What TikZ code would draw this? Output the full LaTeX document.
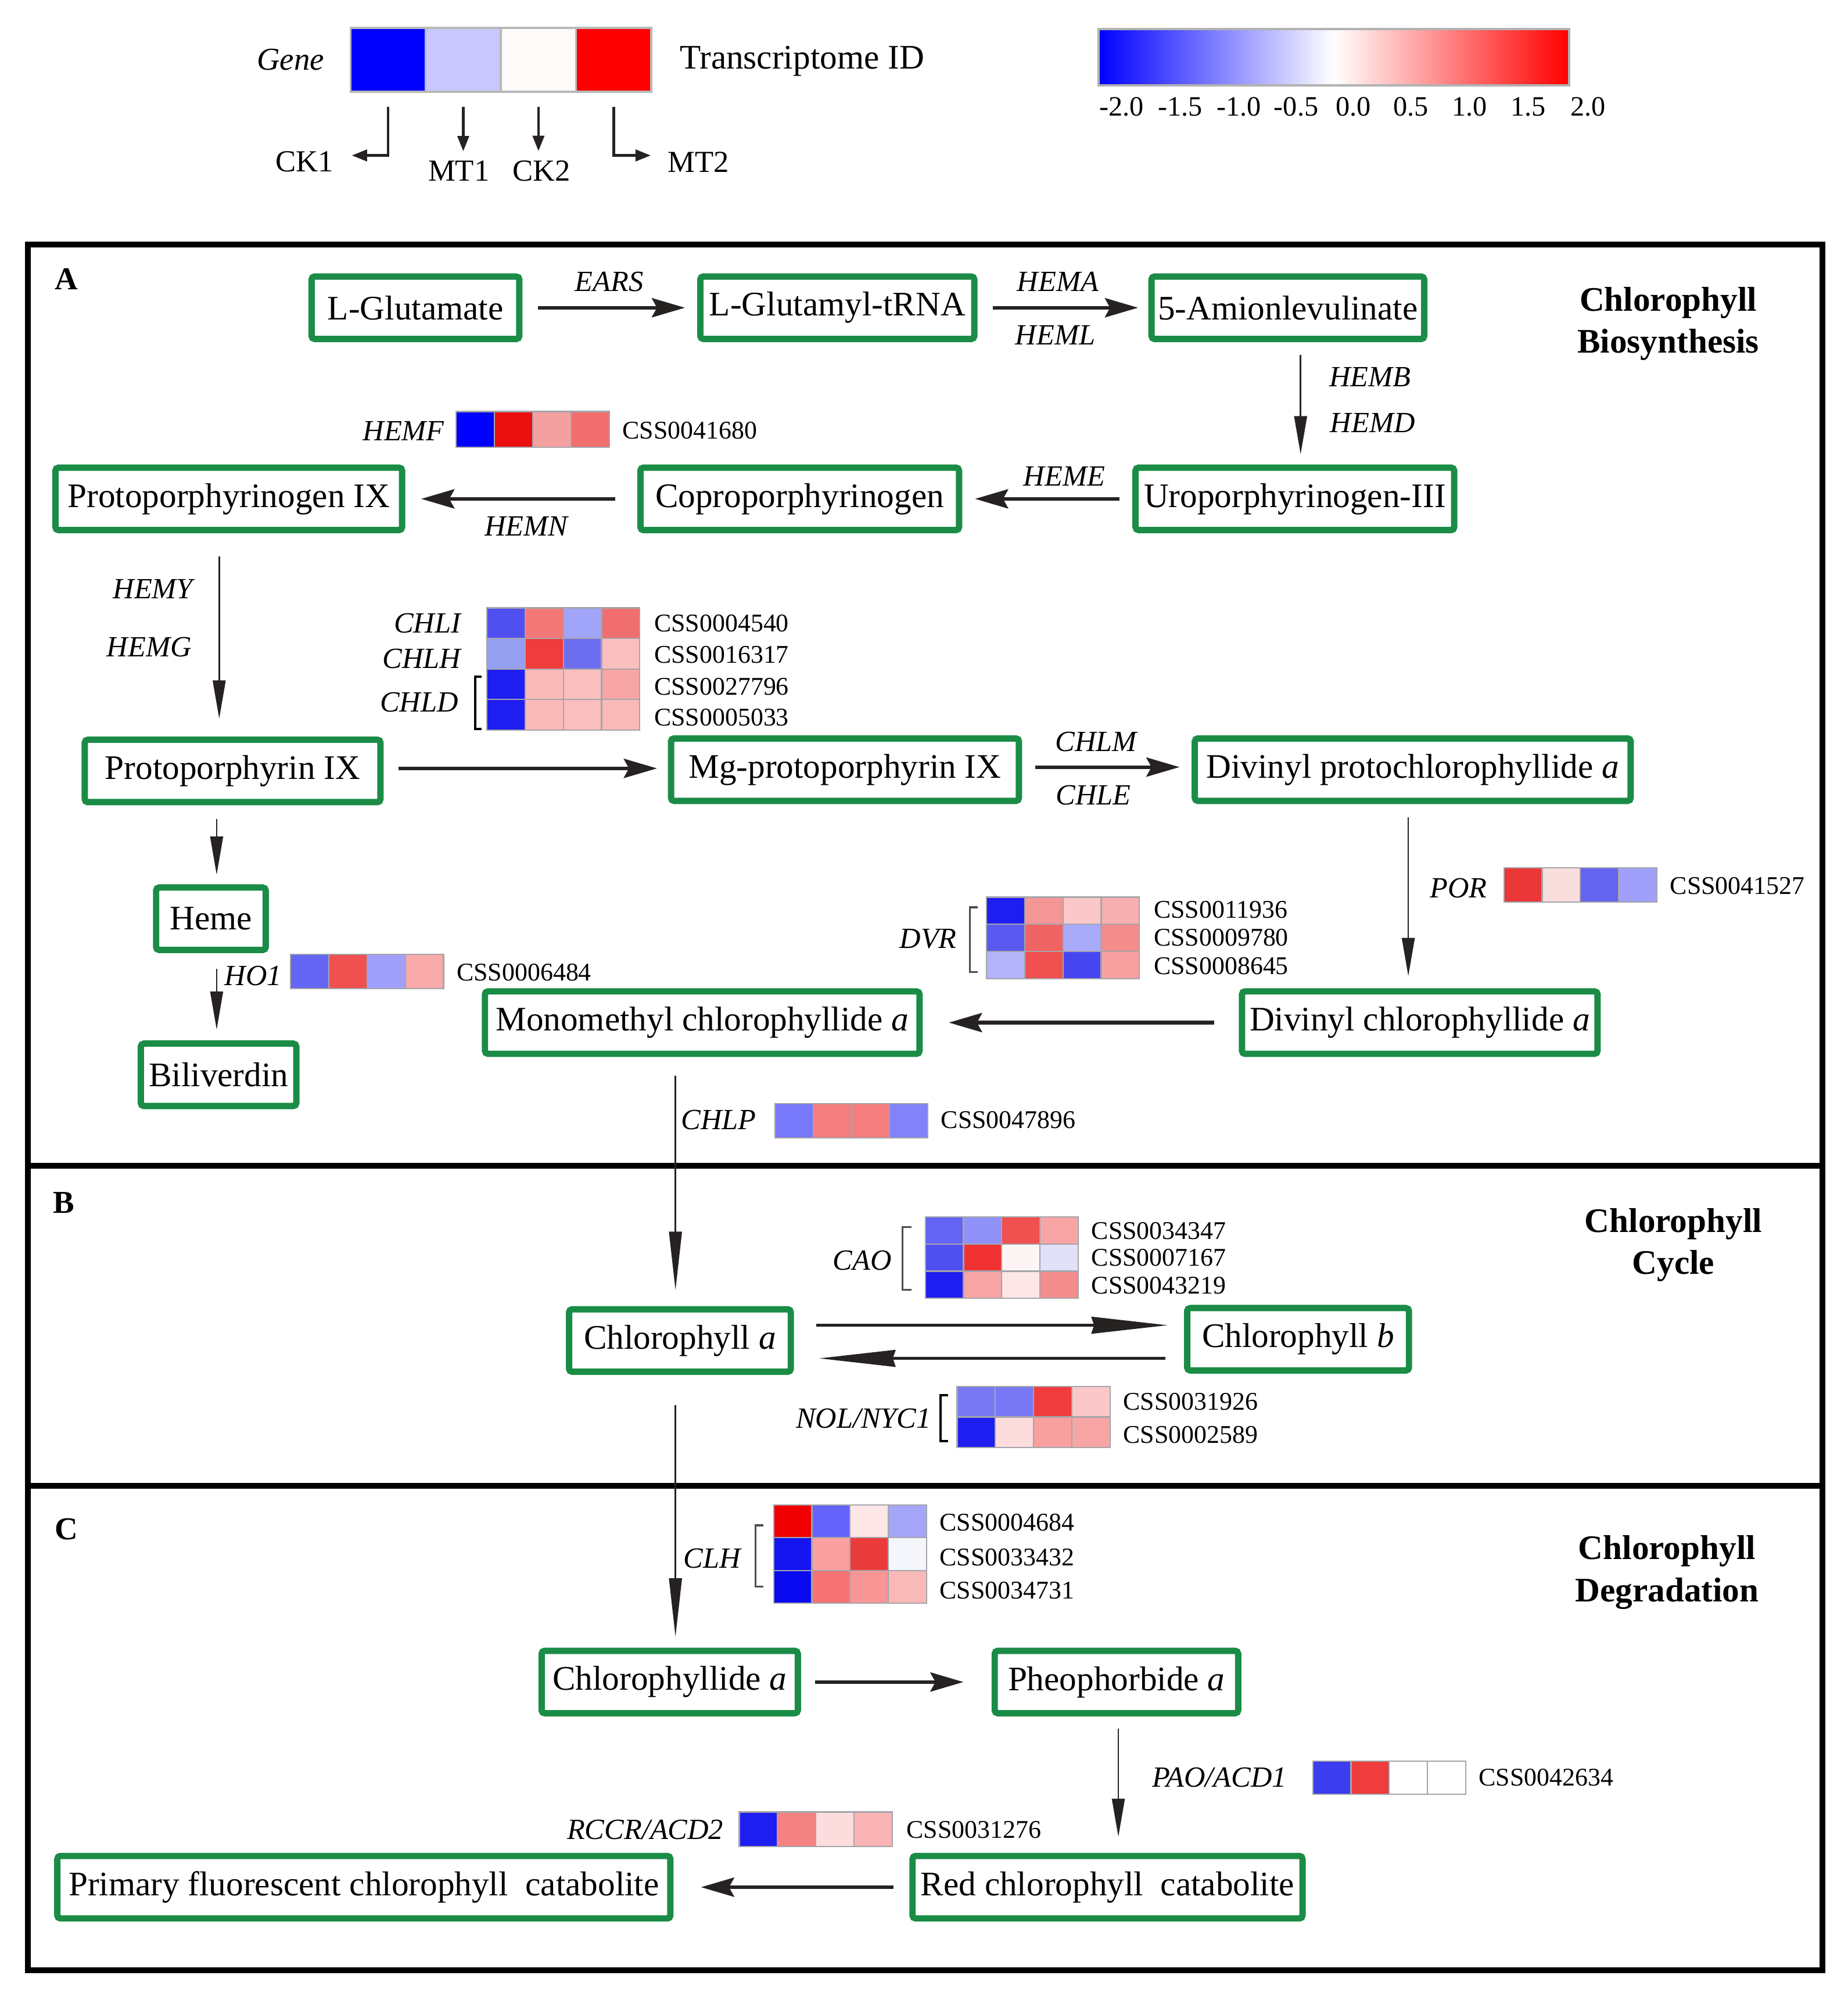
\documentclass[tikz,border=0pt]{standalone}
\usepackage{fontspec}
\setmainfont{Liberation Serif}
\usetikzlibrary{arrows.meta}
\definecolor{boxgreen}{RGB}{27,140,70}
\definecolor{arrgray}{RGB}{38,34,34}
\definecolor{hmgray}{RGB}{165,165,170}
\definecolor{legblue}{RGB}{0,0,255}
\definecolor{leglblue}{RGB}{200,200,255}
\definecolor{legwhite}{RGB}{255,250,250}
\definecolor{legred}{RGB}{255,0,0}
\newcommand\hmcell[3]{%
  \definecolor{hmtmp}{RGB}{#3}%
  \filldraw[draw=hmgray,line width=0.5pt,fill=hmtmp] (#1,0) rectangle ++(30,#2);}
\newcommand\hmrow[7]{%
  \begin{scope}[shift={(#1,#2)}]
    \hmcell{0}{#3}{#4}\hmcell{30}{#3}{#5}\hmcell{60}{#3}{#6}\hmcell{90}{#3}{#7}
  \end{scope}}
\tikzset{
  cpd/.style={draw=boxgreen, line width=2.5pt, rounded corners=1.2pt, minimum height=24.5pt, inner sep=0pt, font=\fontsize{13.5}{16}\selectfont},
  gene/.style={font=\fontsize{11.5}{13}\selectfont\itshape, inner sep=0pt},
  cssid/.style={font=\fontsize{10}{12}\selectfont, inner sep=0pt, anchor=west},
  sectitle/.style={font=\fontsize{13.5}{16.5}\selectfont\bfseries, align=center, inner sep=0pt},
  secletter/.style={font=\fontsize{12.5}{14}\selectfont\bfseries, inner sep=0pt},
  mainarr/.style={draw=arrgray, line width=1.4pt, -{Stealth[length=13pt,width=7.5pt,inset=2pt]}},
  thinarr/.style={draw=arrgray, line width=0.6pt, -{Triangle[length=15pt,width=5pt]}},
  longarr/.style={draw=arrgray, line width=0.6pt, -{Triangle[length=23pt,width=5pt]}},
  cycarr/.style={draw=arrgray, line width=1.3pt, -{Stealth[length=30pt,width=6.5pt,inset=1pt]}},
  brk/.style={draw=black!70, line width=0.7pt},
  legcell/.style={draw=gray!55, line width=0.8pt, minimum width=29.5pt, minimum height=25pt, inner sep=0pt},
  leglab/.style={font=\fontsize{12}{14}\selectfont, inner sep=0pt},
  legarr/.style={draw=arrgray, line width=1pt, -{Triangle[length=6pt,width=4.5pt]}},
  cblab/.style={font=\fontsize{11}{13}\selectfont, inner sep=0pt},
  framel/.style={draw=black, line width=2.3pt}
}
\begin{document}
\begin{tikzpicture}[x=0.5pt,y=-0.5pt]
\path[fill=white] (0,0) rectangle (1450,1561.7);
\useasboundingbox (0,0) rectangle (1450,1561.7);

% ---------------- legend ----------------
\node[font=\fontsize{12.5}{14}\selectfont\itshape, inner sep=0pt] (genelbl) at (228,47) {Gene};
\node[legcell, fill=legblue]  (lc1) at (304.5,47) {};
\node[legcell, fill=leglblue] (lc2) at (363.5,47) {};
\node[legcell, fill=legwhite] (lc3) at (422.5,47) {};
\node[legcell, fill=legred]   (lc4) at (481.5,47) {};
\node[font=\fontsize{13.5}{16}\selectfont, inner sep=0pt, anchor=west] (tid) at (533,48) {Transcriptome ID};
\node[leglab] (ck1) at (239,127) {CK1};
\node[leglab] (mt1) at (360,134) {MT1};
\node[leglab] (ck2) at (425,134) {CK2};
\node[leglab] (mt2) at (548,127) {MT2};
\draw[legarr] ([yshift=-5.5pt]lc1.south) |- ([xshift=7pt,yshift=2.5pt]ck1.east);
\draw[legarr, shorten >=3.5pt] ([yshift=-5.5pt]lc2.south) -- (lc2.south |- mt1.north);
\draw[legarr, shorten >=3.5pt] ([yshift=-5.5pt]lc3.south) -- (lc3.south |- ck2.north);
\draw[legarr] ([yshift=-5.5pt]lc4.south) |- ([xshift=-6.5pt,yshift=2.5pt]mt2.west);

% colour bar
\shade[left color=blue, right color=red, middle color=white] (862,23) rectangle (1231,67);
\draw[gray!60, line width=0.9pt] (862,23) rectangle (1231,67);
\node[cblab] (cb1) at (880,84) {-2.0};
\node[cblab] (cb2) at (926,84) {-1.5};
\node[cblab] (cb3) at (972,84) {-1.0};
\node[cblab] (cb4) at (1017,84) {-0.5};
\node[cblab] (cb5) at (1062,84) {0.0};
\node[cblab] (cb6) at (1107,84) {0.5};
\node[cblab] (cb7) at (1153,84) {1.0};
\node[cblab] (cb8) at (1199,84) {1.5};
\node[cblab] (cb9) at (1246,84) {2.0};

% ---------------- frame ----------------
\draw[framel] (22,192) rectangle (1430,1546);
\draw[framel] (22,915) -- (1430,915);
\draw[framel] (22,1166) -- (1430,1166);
\node[secletter] (secA) at (52,219) {A};
\node[secletter] (secB) at (50,944) {B};
\node[secletter] (secC) at (52,1200) {C};
\node[sectitle] (titA) at (1309,254) {Chlorophyll\\Biosynthesis};
\node[sectitle] (titB) at (1313,977) {Chlorophyll\\Cycle};
\node[sectitle] (titC) at (1308,1234) {Chlorophyll\\Degradation};

% ---------------- compounds ----------------
\node[cpd, minimum width=81.5pt]  (glu)    at (326,241.5) {L-Glutamate};
\node[cpd, minimum width=107.5pt] (glut)   at (657,241.5) {L-Glutamyl-tRNA};
\node[cpd, minimum width=107pt]   (amino)  at (1010.5,241.5) {5-Amionlevulinate};
\node[cpd, minimum width=125pt]   (urop)   at (1016,391.5) {Uroporphyrinogen-III};
\node[cpd, minimum width=125pt]   (copro)  at (627.5,391.5) {Coproporphyrinogen};
\node[cpd, minimum width=136pt]   (protogen) at (179.5,391.5) {Protoporphyrinogen IX};
\node[cpd, minimum width=116pt]   (protop) at (182.5,605) {Protoporphyrin IX};
\node[cpd, minimum width=136.5pt] (mgp)    at (663,604) {Mg-protoporphyrin IX};
\node[cpd, minimum width=171pt]   (dvpc)   at (1108.5,604) {Divinyl protochlorophyllide \textit{a}};
\node[cpd, minimum width=139.5pt] (dvc)    at (1114,802.5) {Divinyl chlorophyllide \textit{a}};
\node[cpd, minimum width=170.5pt] (mmc)    at (551,802.5) {Monomethyl chlorophyllide \textit{a}};
\node[cpd, minimum width=43pt]    (heme)   at (165.5,721) {Heme};
\node[cpd, minimum width=61pt]    (bili)   at (171.5,843.5) {Biliverdin};
\node[cpd, minimum width=87pt]    (chla)   at (533.5,1052) {Chlorophyll \textit{a}};
\node[cpd, minimum width=87pt]    (chlb)   at (1018.5,1051) {Chlorophyll \textit{b}};
\node[cpd, minimum width=100.5pt] (chlide) at (525.5,1320) {Chlorophyllide \textit{a}};
\node[cpd, minimum width=95.5pt]  (pheo)   at (876,1320) {Pheophorbide \textit{a}};
\node[cpd, minimum width=153pt]   (rcc)    at (869,1481) {Red chlorophyll~~catabolite};
\node[cpd, minimum width=240.5pt] (pfcc)   at (285.5,1481) {Primary fluorescent chlorophyll~~catabolite};

% ---------------- connectors ----------------
\draw[mainarr, shorten <=6pt, shorten >=4.75pt] (glu.east) -- (glut.west);
\draw[mainarr, shorten <=6pt, shorten >=4pt] (glut.east) -- (amino.west);
\draw[thinarr, shorten <=5pt, shorten >=4pt] ([xshift=5pt]amino.south) -- ([xshift=5pt]amino.south |- urop.north);
\draw[mainarr, shorten <=5pt, shorten >=5pt] (urop.west) -- (copro.east);
\draw[mainarr, shorten <=8.75pt, shorten >=6.25pt] (copro.west) -- (protogen.east);
\draw[thinarr, shorten <=9pt, shorten >=7pt] ([xshift=-3.75pt]protogen.south) -- ([xshift=-3.75pt]protogen.south |- protop.north);
\draw[mainarr, shorten <=5.75pt, shorten >=4.25pt] ([yshift=1pt]protop.east) -- ([yshift=1pt]protop.east -| mgp.west);
\draw[mainarr, shorten <=5.25pt, shorten >=4.75pt] ([yshift=1pt]mgp.east) -- ([yshift=1pt]dvpc.west);
\draw[thinarr, shorten <=5.25pt, shorten >=4.75pt] ([xshift=-1.75pt]dvpc.south) -- ([xshift=-1.75pt]dvpc.south |- dvc.north);
\draw[mainarr, shorten <=9.75pt, shorten >=10.25pt] (dvc.west) -- (mmc.east);
\draw[thinarr, shorten <=5.25pt, shorten >=3.75pt] ([xshift=-6.25pt]protop.south) -- ([xshift=-6.25pt]protop.south |- heme.north);
\draw[thinarr, shorten <=6.25pt, shorten >=4.25pt] ([xshift=2.25pt]heme.south) -- ([xshift=2.25pt]heme.south |- bili.north);
\draw[longarr, shorten <=7.25pt, shorten >=6.25pt] ([xshift=-10.5pt]mmc.south) -- ([xshift=-10.5pt]mmc.south |- chla.north);
\draw[cycarr, shorten <=8.75pt, shorten >=6.25pt] ([yshift=6pt]chla.east) -- ([yshift=6pt]chla.east -| chlb.west);
\draw[cycarr, shorten <=7.25pt, shorten >=9.75pt] ([yshift=-7pt]chla.east -| chlb.west) -- ([yshift=-7pt]chla.east);
\draw[longarr, shorten <=11.75pt, shorten >=4.25pt] ([xshift=-1.75pt]chla.south) -- ([xshift=-1.75pt]chla.south |- chlide.north);
\draw[mainarr, shorten <=5.5pt, shorten >=11pt] (chlide.east) -- (pheo.west);
\draw[thinarr, shorten <=4.75pt, shorten >=6.25pt] ([xshift=0.75pt]pheo.south) -- ([xshift=0.75pt]pheo.south |- rcc.north);
\draw[mainarr, shorten <=6.25pt, shorten >=10.75pt] (rcc.west) -- (pfcc.east);

% ---------------- gene labels ----------------
\node[gene] (gEARS) at (478,221) {EARS};
\node[gene] (gHEMA) at (830,221) {HEMA};
\node[gene] (gHEML) at (828,263) {HEML};
\node[gene] (gHEMB) at (1075,296) {HEMB};
\node[gene] (gHEMD) at (1077,332) {HEMD};
\node[gene] (gHEME) at (835,374) {HEME};
\node[gene] (gHEMN) at (413,413) {HEMN};
\node[gene, anchor=east] (gHEMF) at (349,338) {HEMF};
\node[gene] (gHEMY) at (120,462) {HEMY};
\node[gene] (gHEMG) at (117,508) {HEMG};
\node[gene, anchor=east] (gCHLI) at (362,489) {CHLI};
\node[gene, anchor=east] (gCHLH) at (362,517) {CHLH};
\node[gene, anchor=east] (gCHLD) at (360,551) {CHLD};
\node[gene] (gCHLM) at (860,582) {CHLM};
\node[gene] (gCHLE) at (858,624) {CHLE};
\node[gene, anchor=east] (gPOR) at (1167,697) {POR};
\node[gene, anchor=east] (gDVR) at (751,737) {DVR};
\node[gene, anchor=west] (gHO1) at (176,766) {HO1};
\node[gene, anchor=west] (gCHLP) at (534,879) {CHLP};
\node[gene, anchor=east] (gCAO) at (700,989) {CAO};
\node[gene, anchor=east] (gNOL) at (731,1113) {NOL/NYC1};
\node[gene, anchor=west] (gCLH) at (536,1223) {CLH};
\node[gene, anchor=east] (gPAO) at (1010,1395) {PAO/ACD1};
\node[gene, anchor=east] (gRCCR) at (568,1436) {RCCR/ACD2};

% ---------------- heat maps ----------------
\hmrow{358}{323}{28}{0,0,255}{235,15,15}{245,160,160}{240,110,110}
\hmrow{382}{477}{24}{80,80,240}{245,120,120}{160,165,250}{240,110,110}
\hmrow{382}{501}{24}{150,160,240}{240,60,60}{110,110,240}{250,190,190}
\hmrow{382}{525}{24}{30,30,240}{250,185,185}{250,190,190}{248,165,165}
\hmrow{382}{549}{24}{30,30,240}{250,185,185}{250,190,190}{250,185,185}
\hmrow{1180}{681}{27}{235,55,55}{250,222,222}{100,100,240}{160,160,250}
\hmrow{774}{704}{21.3}{30,30,240}{245,150,150}{250,200,200}{248,175,175}
\hmrow{774}{725.3}{21.3}{90,90,240}{240,100,100}{170,170,250}{245,140,140}
\hmrow{774}{746.6}{21.3}{180,180,250}{240,80,80}{70,70,240}{248,160,160}
\hmrow{228}{749}{27}{100,100,245}{240,80,80}{160,160,250}{248,170,170}
\hmrow{608}{866}{27}{120,120,250}{245,125,125}{245,125,125}{130,130,250}
\hmrow{726}{955}{21.3}{100,100,245}{145,145,250}{240,80,80}{248,165,165}
\hmrow{726}{976.3}{21.3}{80,80,240}{240,50,50}{253,245,245}{225,225,250}
\hmrow{726}{997.6}{21.3}{30,30,240}{248,165,165}{252,230,230}{245,140,140}
\hmrow{751}{1088}{24}{120,120,245}{120,120,245}{240,60,60}{250,200,200}
\hmrow{751}{1112}{24}{30,30,240}{252,220,220}{248,160,160}{248,165,165}
\hmrow{607}{1181}{25.7}{240,0,0}{100,100,250}{252,230,230}{165,165,250}
\hmrow{607}{1206.7}{25.7}{20,20,240}{250,160,160}{235,60,60}{245,245,252}
\hmrow{607}{1232.4}{25.7}{10,10,240}{245,115,115}{248,150,150}{250,185,185}
\hmrow{1030}{1382}{26}{60,60,240}{240,60,60}{255,255,255}{255,255,255}
\hmrow{580}{1422}{27}{30,30,240}{245,130,130}{252,220,220}{250,180,180}

% brackets
\draw[brk, draw=black, line width=0.9pt] (378,531) -| (373,572) -- (378,572);
\draw[brk] (767,712) -| (761,763) -- (767,763);
\draw[brk] (715,963) -| (708,1012) -- (715,1012);
\draw[brk, draw=black, line width=0.9pt] (744,1095) -| (738,1131) -- (744,1131);
\draw[brk] (599,1197) -| (593,1245) -- (599,1245);

% ---------------- transcript IDs ----------------
\node[cssid] (i1) at (488,338) {CSS0041680};
\node[cssid] (i2) at (513,489) {CSS0004540};
\node[cssid] (i3) at (513,514) {CSS0016317};
\node[cssid] (i4) at (513,539) {CSS0027796};
\node[cssid] (i5) at (513,563) {CSS0005033};
\node[cssid] (i6) at (1310,695) {CSS0041527};
\node[cssid] (i7) at (905,714) {CSS0011936};
\node[cssid] (i8) at (905,736) {CSS0009780};
\node[cssid] (i9) at (905,758) {CSS0008645};
\node[cssid] (i10) at (358,763) {CSS0006484};
\node[cssid] (i11) at (738,879) {CSS0047896};
\node[cssid] (i12) at (856,966) {CSS0034347};
\node[cssid] (i13) at (856,987) {CSS0007167};
\node[cssid] (i14) at (856,1009) {CSS0043219};
\node[cssid] (i15) at (881,1100) {CSS0031926};
\node[cssid] (i16) at (881,1126) {CSS0002589};
\node[cssid] (i17) at (737,1195) {CSS0004684};
\node[cssid] (i18) at (737,1222) {CSS0033432};
\node[cssid] (i19) at (737,1248) {CSS0034731};
\node[cssid] (i20) at (1160,1395) {CSS0042634};
\node[cssid] (i21) at (711,1436) {CSS0031276};
\end{tikzpicture}
\end{document}
